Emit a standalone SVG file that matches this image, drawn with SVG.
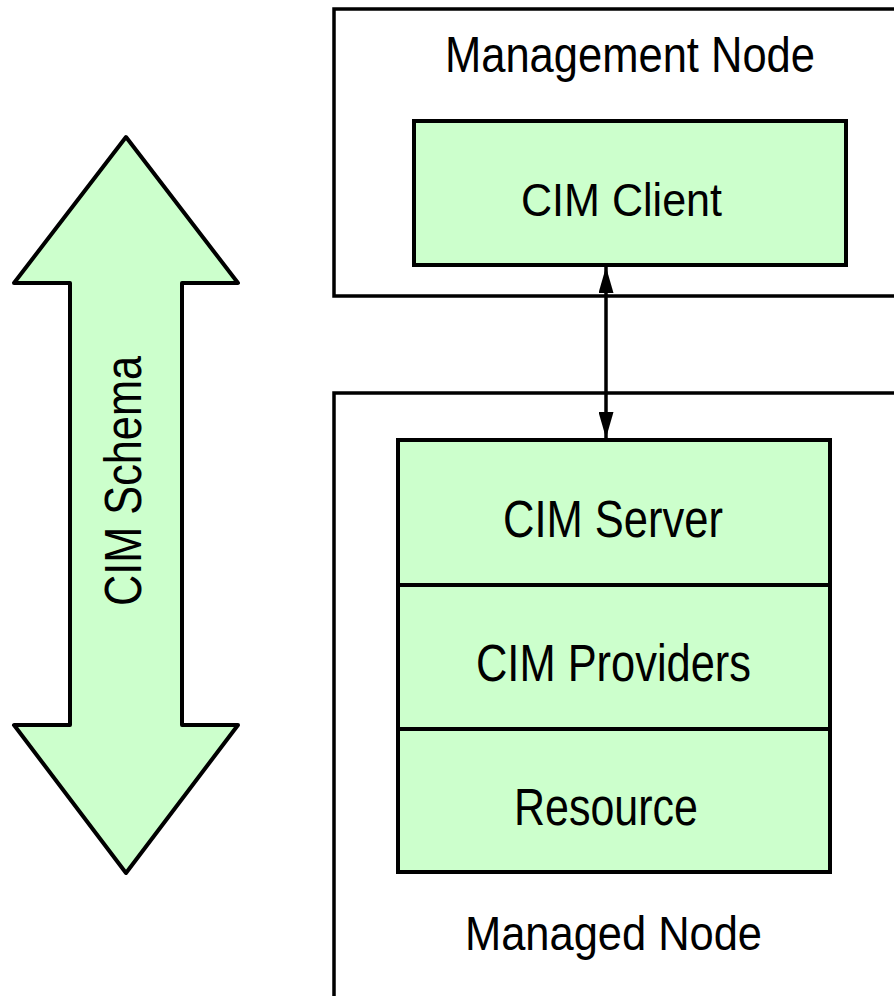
<svg xmlns="http://www.w3.org/2000/svg" width="894" height="996" viewBox="0 0 894 996">
<defs>
<style>
.box{fill:#ccffcc;stroke:#000;stroke-width:4}
.frame{fill:none;stroke:#000;stroke-width:3.5}
.t{font-family:"Liberation Sans","Arial",sans-serif;fill:#000;text-anchor:middle}
.conn{stroke:#000;stroke-width:3.5;fill:none}
</style>
<marker id="ah" viewBox="0 0 26 15" refX="26" refY="7.5" markerWidth="26" markerHeight="15" markerUnits="userSpaceOnUse" orient="auto-start-reverse">
<path d="M0,0 L26,7.5 L0,15 Z" fill="#000"/>
</marker>
</defs>
<rect width="894" height="996" fill="#fff"/>
<g id="schema">
<polygon class="box" stroke-linejoin="round" points="126,137 238,283 182,283 182,725 238,725 126,873 14,725 70,725 70,283 14,283"/>
<text class="t" font-size="52" textLength="250" lengthAdjust="spacingAndGlyphs" transform="translate(141,481) rotate(-90)">CIM Schema</text>
</g>
<g id="management-node">
<path class="frame" d="M900,9 H334 V296 H900"/>
<text class="t" font-size="50" x="630" y="72" textLength="370" lengthAdjust="spacingAndGlyphs">Management Node</text>
</g>
<g id="cim-client">
<rect class="box" x="414" y="121" width="432" height="144"/>
<text class="t" font-size="47" x="621.5" y="216" textLength="201" lengthAdjust="spacingAndGlyphs">CIM Client</text>
</g>
<g id="managed-node">
<path class="frame" d="M900,393 H334 V1000"/>
<text class="t" font-size="48" x="613.5" y="950" textLength="297" lengthAdjust="spacingAndGlyphs">Managed Node</text>
</g>
<g id="cim-server">
<rect class="box" x="398" y="440" width="432" height="145"/>
<text class="t" font-size="51" x="613" y="537" textLength="220" lengthAdjust="spacingAndGlyphs">CIM Server</text>
</g>
<g id="cim-providers">
<rect class="box" x="398" y="585" width="432" height="144"/>
<text class="t" font-size="51" x="613.5" y="681" textLength="275" lengthAdjust="spacingAndGlyphs">CIM Providers</text>
</g>
<g id="resource">
<rect class="box" x="398" y="729" width="432" height="143"/>
<text class="t" font-size="51" x="606" y="825" textLength="184" lengthAdjust="spacingAndGlyphs">Resource</text>
</g>
<g id="connectors">
<line class="conn" x1="606" y1="267" x2="606" y2="438" marker-start="url(#ah)" marker-end="url(#ah)"/>
</g>
</svg>
